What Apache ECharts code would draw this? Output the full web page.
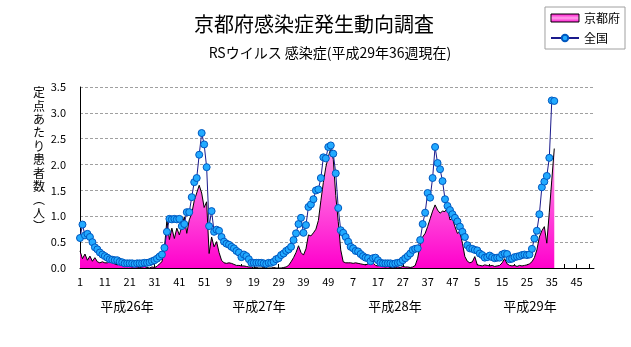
<!DOCTYPE html>
<html><head><meta charset="utf-8">
<script src="https://cdn.jsdelivr.net/npm/echarts@6/dist/echarts.min.js"></script>
<style>html,body{margin:0;padding:0;background:#fff}#c{width:631px;height:347px}</style>
</head><body><div id="c"></div>
<script>
// weeks per year: 平成26年, 平成27年, 平成28年, 平成29年
const yearWeeks = [52, 52, 52, 52];
const yearLabels = ['平成26年', '平成27年', '平成28年', '平成29年'];
const yTicks = [0, 0.5, 1.0, 1.5, 2.0, 2.5, 3.0, 3.5];

// 京都府 (weekly, 平成26年1週 - 平成29年36週)
const kyoto = [
0.33,0.18,0.27,0.15,0.23,0.13,0.2,0.12,0.1,0.12,
0.1,0.1,0.12,0.1,0.08,0.06,0.1,0.05,0.04,0.03,
0.03,0.02,0.03,0.02,0.01,0.02,0.03,0.01,0,0.02,
0.01,0.03,0.08,0.12,0.38,0.93,0.55,0.77,0.57,0.77,
0.64,0.8,0.99,0.67,0.93,1.05,1.3,1.45,1.6,1.45,
1.17,1.28,0.28,0.6,0.41,0.51,0.3,0.15,0.1,0.09,
0.1,0.09,0.07,0.05,0.05,0.04,0.04,0.03,0.02,0.02,
0,0.01,0,0,0.01,0,0,0,0.01,0,
0,0,0.01,0.02,0.05,0.12,0.2,0.3,0.43,0.3,
0.25,0.37,0.64,0.62,0.68,0.75,0.92,1.3,1.65,1.95,
2.15,2.31,2.1,1.4,0.9,0.35,0.12,0.1,0.1,0.1,
0.09,0.1,0.09,0.08,0.07,0.06,0.08,0.12,0.1,0.05,
0.04,0.06,0.03,0.02,0.03,0.01,0.02,0.01,0.02,0.01,
0.03,0.02,0.02,0.01,0.02,0.05,0.19,0.45,0.6,
0.67,0.8,0.95,1.1,1.22,1.12,1.06,1.1,1.09,1.17,
0.93,0.96,0.8,0.67,0.7,0.48,0.22,0.13,0.1,0.12,
0.22,0.06,0.05,0.04,0.06,0.05,0.04,0.05,0.03,0.04,
0.05,0.1,0.18,0.08,0.05,0.04,0.05,0.03,0.05,0.04,
0.05,0.06,0.08,0.12,0.2,0.35,0.6,0.72,0.8,0.48,
1.08,1.7,2.31
];

// 全国
const zenkoku = [
0.58,0.84,0.63,0.66,0.6,0.5,0.4,0.36,0.3,0.26,
0.23,0.2,0.17,0.16,0.15,0.15,0.12,0.11,0.09,0.09,
0.09,0.09,0.08,0.09,0.09,0.09,0.1,0.1,0.11,0.13,
0.15,0.18,0.22,0.26,0.39,0.7,0.95,0.94,0.95,0.94,
0.95,0.81,0.85,1.08,1.08,1.37,1.66,1.74,2.19,2.61,
2.39,1.95,0.81,1.1,0.7,0.74,0.72,0.6,0.51,0.47,
0.45,0.41,0.38,0.33,0.3,0.21,0.26,0.23,0.17,0.1,
0.1,0.1,0.1,0.1,0.09,0.08,0.1,0.1,0.12,0.17,
0.19,0.25,0.28,0.33,0.36,0.41,0.54,0.67,0.85,0.97,
0.68,0.83,1.18,1.23,1.33,1.5,1.52,1.74,2.14,2.12,
2.34,2.37,2.21,1.83,1.16,0.73,0.68,0.6,0.51,0.41,
0.38,0.33,0.32,0.27,0.23,0.2,0.19,0.13,0.19,0.2,
0.15,0.1,0.09,0.09,0.09,0.09,0.08,0.09,0.1,
0.11,0.15,0.19,0.23,0.28,0.35,0.37,0.38,0.54,0.85,
1.07,1.45,1.36,1.74,2.34,2.03,1.91,1.68,1.33,1.2,
1.12,1.04,0.97,0.9,0.8,0.7,0.6,0.44,0.38,0.37,
0.35,0.34,0.28,0.25,0.2,0.21,0.24,0.21,0.19,0.2,
0.2,0.26,0.28,0.27,0.17,0.18,0.21,0.22,0.23,0.25,
0.26,0.25,0.26,0.37,0.57,0.72,1.04,1.56,1.67,1.78,
2.13,3.24,3.23
];

const categories = [];
yearWeeks.forEach(n => { for (let w = 1; w <= n; w++) categories.push(String(w)); });

const FONT = '"Noto Sans CJK JP", "Noto Sans", sans-serif';
const pinkFill = new echarts.graphic.LinearGradient(0, 0, 0, 1, [
  {offset: 0, color: '#ff9fe8'},
  {offset: 0.45, color: '#ff55dd'},
  {offset: 1, color: '#ff00cc'}
]);
const legendPink = new echarts.graphic.LinearGradient(0, 0, 0, 1, [
  {offset: 0, color: '#ff00cc'},
  {offset: 0.5, color: '#ffa0ea'},
  {offset: 1, color: '#ff00cc'}
]);

const chart = echarts.init(document.getElementById('c'), null, {renderer: 'canvas'});
const yearX = [127, 259, 395, 530];
const yName = ['定','点','あ','た','り','患','者','数','︵','人','︶'].join('\n');

chart.setOption({
  animation: false,
  backgroundColor: '#fff',
  grid: {left: 80, right: 37, top: 87, bottom: 79, containLabel: false},
  legend: {
    orient: 'vertical', right: 6, top: 7,
    backgroundColor: '#fff', borderColor: '#a0a0a0', borderWidth: 1,
    padding: [5, 5, 5, 5], itemGap: 8, itemWidth: 28, itemHeight: 8,
    textStyle: {fontSize: 12, fontFamily: FONT, color: '#000'},
    data: [
      {name: '京都府', icon: 'rect', itemStyle: {color: legendPink, borderColor: '#000', borderWidth: 1}},
      {name: '全国'}
    ]
  },
  xAxis: {
    type: 'category', data: categories, boundaryGap: false,
    axisLine: {lineStyle: {color: '#000', width: 1}},
    axisTick: {show: true, inside: true, length: 4, interval: 4, lineStyle: {color: '#000'}},
    axisLabel: {interval: 9, fontSize: 11, margin: 8, color: '#000', fontFamily: FONT},
    splitLine: {show: false}
  },
  yAxis: {
    type: 'value', min: yTicks[0], max: yTicks[yTicks.length - 1], interval: 0.5,
    axisLine: {show: true, lineStyle: {color: '#000', width: 1}},
    axisTick: {show: false},
    axisLabel: {formatter: v => v.toFixed(1), fontSize: 11, margin: 14, color: '#000', fontFamily: FONT},
    splitLine: {show: true, lineStyle: {color: '#a0a0a0', type: [3, 2], width: 1}}
  },
  series: [
    {
      name: '京都府', type: 'line', data: kyoto, symbol: 'none', z: 2,
      lineStyle: {color: '#000', width: 1},
      itemStyle: {color: '#ff00cc'},
      areaStyle: {color: pinkFill, opacity: 1}
    },
    {
      name: '全国', type: 'line', data: zenkoku, z: 3,
      symbol: 'circle', symbolSize: 7, showAllSymbol: true,
      lineStyle: {color: '#1a1a8c', width: 1},
      itemStyle: {color: '#22aaff', borderColor: '#0058c0', borderWidth: 1}
    }
  ],
  graphic: [
    {type: 'text', x: 314, y: 24, style: {text: '京都府感染症発生動向調査', align: 'center', verticalAlign: 'middle', font: '20px ' + FONT, fill: '#000'}},
    {type: 'text', x: 330, y: 53, style: {text: 'RSウイルス 感染症(平成29年36週現在)', align: 'center', verticalAlign: 'middle', font: '14px ' + FONT, fill: '#000'}},
    {type: 'text', x: 39, y: 86, style: {text: yName, align: 'center', verticalAlign: 'top', font: '12px ' + FONT, lineHeight: 13.4, fill: '#000'}}
  ].concat(yearLabels.map((t, k) => ({
    type: 'text', x: yearX[k], y: 306,
    style: {text: t, align: 'center', verticalAlign: 'middle', font: '13px ' + FONT, fill: '#000'}
  })))
});
</script></body></html>
